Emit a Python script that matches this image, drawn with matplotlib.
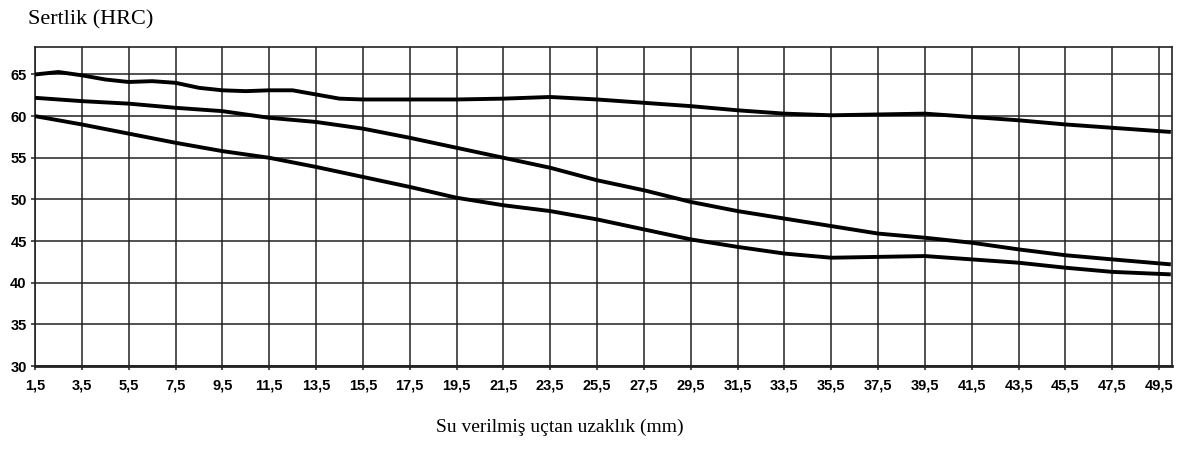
import matplotlib
matplotlib.use("Agg")
import matplotlib.pyplot as plt

# distance from quenched end (mm) and hardness (HRC)
x_top = [1.5, 2.5, 3.5, 4.5, 5.5, 6.5, 7.5, 8.5, 9.5, 10.5, 11.5, 12.5, 13.5, 14.5,
         15.5, 17.5, 19.5, 21.5, 23.5, 25.5, 27.5, 29.5, 31.5, 33.5, 35.5, 37.5,
         39.5, 41.5, 43.5, 45.5, 47.5, 50.0]
hrc_top = [65.0, 65.3, 64.9, 64.4, 64.1, 64.2, 64.0, 63.4, 63.1, 63.0, 63.1, 63.1, 62.6, 62.1,
           62.0, 62.0, 62.0, 62.1, 62.3, 62.0, 61.6, 61.2, 60.7, 60.3, 60.1, 60.2,
           60.3, 59.9, 59.5, 59.0, 58.6, 58.1]

x_mid = [1.5, 3.5, 5.5, 7.5, 9.5, 11.5, 13.5, 15.5, 17.5, 19.5, 21.5, 23.5, 25.5,
         27.5, 29.5, 31.5, 33.5, 35.5, 37.5, 39.5, 41.5, 43.5, 45.5, 47.5, 50.0]
hrc_mid = [62.2, 61.8, 61.5, 61.0, 60.6, 59.8, 59.3, 58.5, 57.4, 56.2, 55.0, 53.8, 52.3,
           51.1, 49.7, 48.6, 47.7, 46.8, 45.9, 45.4, 44.8, 44.0, 43.3, 42.8, 42.2]

x_low = [1.5, 3.5, 5.5, 7.5, 9.5, 11.5, 13.5, 15.5, 17.5, 19.5, 21.5, 23.5, 25.5,
         27.5, 29.5, 31.5, 33.5, 35.5, 37.5, 39.5, 41.5, 43.5, 45.5, 47.5, 50.0]
hrc_low = [60.0, 59.0, 57.9, 56.8, 55.8, 55.0, 53.9, 52.7, 51.5, 50.2, 49.3, 48.6, 47.6,
           46.4, 45.2, 44.3, 43.5, 43.0, 43.1, 43.2, 42.8, 42.4, 41.8, 41.3, 41.0]

xticks = [1.5 + 2 * i for i in range(25)]
yticks = [30, 35, 40, 45, 50, 55, 60, 65]

fig = plt.figure(figsize=(11.78, 4.63), dpi=100)
ax = fig.add_axes([35 / 1178, 97 / 463, 1137 / 1178, 319 / 463])

for xs, ys in [(x_top, hrc_top), (x_mid, hrc_mid), (x_low, hrc_low)]:
    ax.plot(xs, ys, color="black", linewidth=2.8, solid_capstyle="butt",
            solid_joinstyle="round", zorder=3)

ax.set_xlim(1.5, 50.05)
ax.set_ylim(30, 68.3)
ax.set_xticks(xticks)
ax.set_xticklabels([str(t).replace(".", ",") for t in xticks])
ax.set_yticks(yticks)
ax.set_yticklabels([str(t) for t in yticks])

for lab in ax.get_xticklabels() + ax.get_yticklabels():
    lab.set_family("Liberation Sans")
    lab.set_weight("bold")
    lab.set_size(10.5)

ax.grid(True, color="#222222", linewidth=1.1)
ax.set_axisbelow(True)
ax.tick_params(axis="both", length=3, width=1.1, color="#222222")
ax.tick_params(axis="x", pad=6)
ax.tick_params(axis="y", pad=3)
for s in ax.spines.values():
    s.set_color("#222222")
    s.set_linewidth(1.2)
ax.spines["bottom"].set_linewidth(2.0)

fig.text(28 / 1178, 1 - 20 / 463, "Sertlik (HRC)", family="Liberation Serif",
         fontsize=16, ha="left", va="center")
fig.text(560 / 1178, 1 - 427 / 463, "Su verilmiş uçtan uzaklık (mm)",
         family="Liberation Serif", fontsize=14, ha="center", va="center")

fig.savefig("out.png", dpi=100, facecolor="white")
